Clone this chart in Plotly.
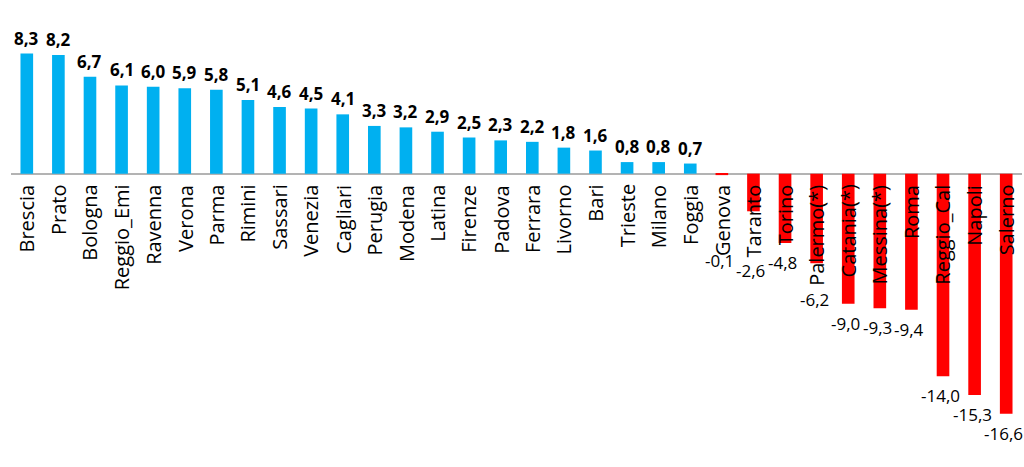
import plotly.graph_objects as go

cities = ["Brescia", "Prato", "Bologna", "Reggio_Emi", "Ravenna", "Verona", "Parma",
          "Rimini", "Sassari", "Venezia", "Cagliari", "Perugia", "Modena", "Latina",
          "Firenze", "Padova", "Ferrara", "Livorno", "Bari", "Trieste", "Milano",
          "Foggia", "Genova", "Taranto", "Torino", "Palermo(*)", "Catania(*)",
          "Messina(*)", "Roma", "Reggio_Cal", "Napoli", "Salerno"]
values = [8.3, 8.2, 6.7, 6.1, 6.0, 5.9, 5.8, 5.1, 4.6, 4.5, 4.1, 3.3, 3.2, 2.9,
          2.5, 2.3, 2.2, 1.8, 1.6, 0.8, 0.8, 0.7, -0.1, -2.6, -4.8, -6.2, -9.0,
          -9.3, -9.4, -14.0, -15.3, -16.6]

POS_COLOR = "#00b0f0"
NEG_COLOR = "#ff0000"
FONT = "Open Sans"

Y_RANGE = [-20, 10]
M_TOP, M_BOT = 29, 4
H = 467
PX_PER_UNIT = (H - M_TOP - M_BOT) / (Y_RANGE[1] - Y_RANGE[0])

colors = [POS_COLOR if v >= 0 else NEG_COLOR for v in values]

fig = go.Figure()
fig.add_trace(go.Bar(
    x=list(range(len(cities))), y=values,
    marker=dict(color=colors, line=dict(width=0)),
    width=0.4, hoverinfo="skip",
))

def fmt(v):
    return f"{v:.1f}".replace(".", ",")

annotations = []
for i, (c, v) in enumerate(zip(cities, values)):
    # category label at the zero line
    annotations.append(dict(
        x=i, y=0, xref="x", yref="y", text=c, showarrow=False,
        textangle=-90, xanchor="center", yanchor="top", yshift=-9,
        font=dict(family=FONT, size=20, color="black"),
    ))
    if v >= 0:
        annotations.append(dict(
            x=i, y=v, xref="x", yref="y", text=f"<b>{fmt(v)}</b>", showarrow=False,
            xanchor="center", yanchor="bottom", yshift=2,
            font=dict(family=FONT, size=17, color="black"),
        ))
    else:
        bar_px = -v * PX_PER_UNIT
        cat_px = 14 + 9.6 * len(c)
        shift = max(6, cat_px - bar_px + 2)
        annotations.append(dict(
            x=i - 0.08, y=v, xref="x", yref="y", text=fmt(v), showarrow=False,
            xanchor="center", yanchor="top", yshift=-shift,
            font=dict(family=FONT, size=17, color="black"),
        ))

fig.update_layout(
    width=1024, height=H,
    margin=dict(l=11, r=2, t=M_TOP, b=M_BOT),
    plot_bgcolor="white", paper_bgcolor="white",
    showlegend=False, bargap=0.6,
    annotations=annotations,
    xaxis=dict(range=[-0.5, len(cities) - 0.5], showticklabels=False,
               showgrid=False, zeroline=False, showline=False, fixedrange=True),
    yaxis=dict(range=Y_RANGE, showticklabels=False, showgrid=False,
               zeroline=True, zerolinecolor="#b3b3b3", zerolinewidth=1.5,
               showline=False, fixedrange=True),
)

fig.write_html(
    "out.html",
    config={"displayModeBar": False},
    post_script="document.body.style.margin='0';document.body.style.overflow='hidden';",
)
